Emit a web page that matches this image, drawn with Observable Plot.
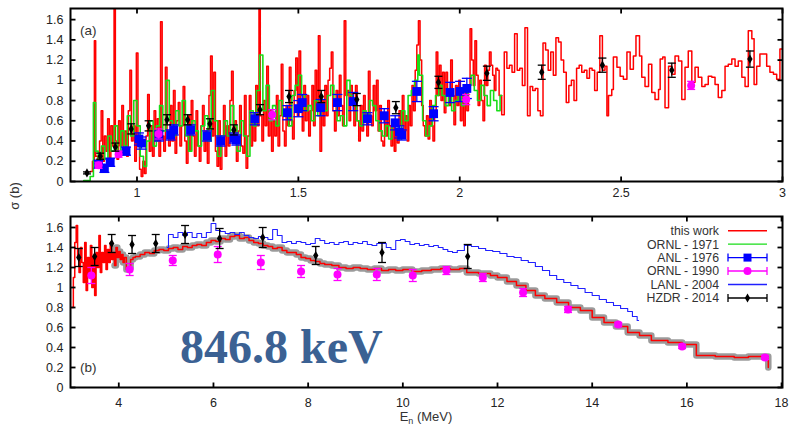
<!DOCTYPE html>
<html><head><meta charset="utf-8">
<script src="https://cdn.jsdelivr.net/npm/d3@7"></script>
<script src="https://cdn.jsdelivr.net/npm/@observablehq/plot@0.6"></script>
<style>
body{margin:0;background:#fff;}
#wrap{position:relative;width:790px;height:426px;overflow:hidden;background:#fff;}
#panelA,#panelB{position:absolute;left:0;}
#panelA{top:0px}#panelB{top:201px}
#ov{position:absolute;left:0;top:0;pointer-events:none;}
</style></head><body>
<div id="wrap"><div id="panelA"></div><div id="panelB"></div>
<svg id="ov" width="790" height="426">
 <g font-family="Liberation Sans, Arial, sans-serif" fill="#333">
  <text x="80" y="35" font-size="13.5">(a)</text>
  <text x="80" y="372" font-size="13.5">(b)</text>
  <text transform="translate(19,196) rotate(-90)" text-anchor="middle" font-size="13">σ (b)</text>
  <text x="426" y="421" text-anchor="middle" font-size="13">E<tspan font-size="9" dy="3">n</tspan><tspan dy="-3"> (MeV)</tspan></text>
 </g>
 <text x="180" y="363" font-family="Liberation Serif, Times New Roman, serif" font-weight="bold" font-size="48" fill="#3b6193">846.8 keV</text>
 <g id="legend" font-family="Liberation Sans, Arial, sans-serif" font-size="12.3" fill="#333" text-anchor="end"></g>
</svg>
</div>
<script>
// ---------- data ----------
const thisWorkA = [[0.855,0.10],[0.862,0.20],[0.868,1.39],[0.872,0.25],[0.878,0.15],[0.884,0.40],[0.889,0.70],[0.894,0.20],[0.899,0.45],[0.904,0.30],[0.909,0.62],[0.914,0.18],[0.919,0.55],[0.924,0.35],[0.929,1.75],[0.933,0.40],[0.938,0.22],[0.943,0.60],[0.948,0.35],[0.953,0.75],[0.958,0.28],[0.963,0.50],[0.968,0.25],[0.973,0.70],[0.978,1.10],[0.983,0.40],[0.988,0.55],[0.993,0.20],[0.998,1.27],[1.003,0.35],[1.008,0.12],[1.013,0.05],[1.018,0.20],[1.023,0.08],[1.028,0.45],[1.033,0.86],[1.038,0.30],[1.043,0.55],[1.048,0.25],[1.053,0.70],[1.058,0.40],[1.063,0.62],[1.068,0.25],[1.073,1.58],[1.078,0.45],[1.083,0.30],[1.088,1.13],[1.093,0.50],[1.098,0.35],[1.103,0.75],[1.108,0.40],[1.113,0.90],[1.118,0.28],[1.123,0.60],[1.128,0.78],[1.133,0.35],[1.138,0.55],[1.143,0.94],[1.148,0.40],[1.153,0.18],[1.158,0.65],[1.163,0.30],[1.168,0.80],[1.173,0.45],[1.178,0.25],[1.183,0.70],[1.188,0.35],[1.193,0.20],[1.198,0.55],[1.203,0.75],[1.208,0.30],[1.213,0.50],[1.218,0.18],[1.223,0.85],[1.228,1.24],[1.233,0.45],[1.238,1.08],[1.243,0.30],[1.248,0.15],[1.253,0.60],[1.258,0.12],[1.263,0.40],[1.268,0.75],[1.273,0.25],[1.278,0.55],[1.283,0.35],[1.288,0.80],[1.293,1.09],[1.298,0.40],[1.303,0.60],[1.308,0.20],[1.313,0.50],[1.318,0.75],[1.323,0.35],[1.328,0.28],[1.333,0.85],[1.338,0.13],[1.343,0.45],[1.348,0.85],[1.353,0.35],[1.358,0.60],[1.363,0.40],[1.368,0.95],[1.373,0.55],[1.378,1.75],[1.382,0.65],[1.387,0.40],[1.392,0.80],[1.397,0.55],[1.402,1.14],[1.407,0.45],[1.412,0.70],[1.417,0.30],[1.422,0.60],[1.427,0.45],[1.432,0.85],[1.437,0.35],[1.442,0.65],[1.447,1.16],[1.452,0.50],[1.457,0.35],[1.462,0.75],[1.467,0.55],[1.472,1.13],[1.477,0.60],[1.482,0.42],[1.487,0.90],[1.492,1.22],[1.497,0.65],[1.502,1.29],[1.507,0.75],[1.512,0.50],[1.517,0.95],[1.522,0.60],[1.527,0.85],[1.532,0.45],[1.537,0.70],[1.542,0.95],[1.547,0.55],[1.552,1.10],[1.557,0.70],[1.562,1.44],[1.567,0.30],[1.572,0.80],[1.577,0.55],[1.582,0.95],[1.587,0.65],[1.592,1.00],[1.597,1.12],[1.602,1.28],[1.607,0.70],[1.612,0.50],[1.617,0.90],[1.622,0.65],[1.627,1.05],[1.632,0.75],[1.637,0.55],[1.642,1.59],[1.647,0.85],[1.652,0.90],[1.657,0.60],[1.662,0.95],[1.667,0.75],[1.672,0.55],[1.677,0.95],[1.682,0.60],[1.687,0.40],[1.692,0.75],[1.697,0.50],[1.702,0.85],[1.707,0.60],[1.712,0.45],[1.717,1.09],[1.722,0.65],[1.727,0.55],[1.732,0.95],[1.737,0.70],[1.742,1.00],[1.747,0.50],[1.752,0.75],[1.757,0.40],[1.762,0.35],[1.767,0.65],[1.772,0.45],[1.777,0.80],[1.782,0.55],[1.787,0.35],[1.792,0.60],[1.797,0.30],[1.802,0.45],[1.807,0.38],[1.812,0.70],[1.817,0.55],[1.822,0.85],[1.827,0.50],[1.832,0.65],[1.837,0.40],[1.842,0.75],[1.847,0.55],[1.852,0.95],[1.857,0.70],[1.862,1.10],[1.867,1.35],[1.872,1.59],[1.877,1.20],[1.882,0.75],[1.887,0.55],[1.892,0.45],[1.897,0.65],[1.902,0.42],[1.907,0.80],[1.912,0.55],[1.917,0.40],[1.922,0.70],[1.927,1.28],[1.932,0.85],[1.937,1.15],[1.942,0.80],[1.947,1.08],[1.952,0.68],[1.957,1.08],[1.962,0.90],[1.967,0.75],[1.972,1.20],[1.977,0.85],[1.982,0.56],[1.987,0.95],[1.992,0.75],[1.997,1.00],[2.002,0.60],[2.007,0.85],[2.012,0.55],[2.017,0.95],[2.022,0.70],[2.027,0.90],[2.032,1.51],[2.037,1.20],[2.042,0.95],[2.047,1.39],[2.052,1.05],[2.057,0.75],[2.062,1.00],[2.067,0.80],[2.072,0.60],[2.077,1.15],[2.082,0.95],[2.087,1.10],[2.092,1.28],[2.097,1.15],[2.102,1.05],[2.107,0.90],[2.112,1.12],[2.117,1.10],[2.122,0.85],[2.130,0.66],[2.138,1.28],[2.146,1.12],[2.154,1.15],[2.162,1.08],[2.170,1.46],[2.178,1.10],[2.186,1.12],[2.194,0.95],[2.202,1.52],[2.210,0.65],[2.218,0.94],[2.226,0.90],[2.234,0.92],[2.242,0.70],[2.250,0.65],[2.258,1.37],[2.266,1.30],[2.274,1.10],[2.282,1.28],[2.290,1.05],[2.298,1.42],[2.306,1.38],[2.314,1.20],[2.322,1.08],[2.330,0.78],[2.338,0.95],[2.346,1.00],[2.354,0.80],[2.362,1.12],[2.370,1.15],[2.378,1.08],[2.386,1.10],[2.394,1.02],[2.402,1.12],[2.410,1.10],[2.418,0.90],[2.426,1.08],[2.434,1.44],[2.442,1.10],[2.450,1.14],[2.456,0.65],[2.461,0.85],[2.471,0.91],[2.476,1.23],[2.487,1.13],[2.497,1.04],[2.507,1.01],[2.518,1.28],[2.528,1.11],[2.538,1.24],[2.546,1.44],[2.557,1.24],[2.564,1.03],[2.574,0.94],[2.585,1.16],[2.595,0.88],[2.605,0.81],[2.616,0.91],[2.621,1.21],[2.629,1.23],[2.636,0.73],[2.647,1.14],[2.657,1.06],[2.667,1.24],[2.678,1.19],[2.688,0.81],[2.698,1.13],[2.708,1.29],[2.719,0.98],[2.729,1.13],[2.739,1.03],[2.750,0.94],[2.760,0.96],[2.770,1.04],[2.781,1.03],[2.791,0.96],[2.801,0.83],[2.812,0.90],[2.822,1.14],[2.832,1.16],[2.843,1.21],[2.853,1.14],[2.863,1.19],[2.874,1.03],[2.884,0.94],[2.894,1.49],[2.905,1.41],[2.912,0.96],[2.920,1.14],[2.930,1.26],[2.941,1.26],[2.951,1.14],[2.961,1.08],[2.972,1.06],[2.982,1.01],[2.992,1.31],[3.000,1.31]];

const ornl1971A = [[0.835,0.01],[0.855,0.05],[0.865,0.78],[0.872,0.30],[0.880,0.15],[0.890,0.35],[0.900,0.22],[0.910,0.45],[0.920,0.30],[0.930,0.55],[0.940,0.25],[0.950,0.50],[0.960,0.35],[0.970,0.65],[0.980,0.45],[0.990,0.80],[1.000,0.55],[1.010,0.25],[1.020,0.15],[1.030,0.40],[1.040,0.60],[1.050,0.35],[1.060,0.55],[1.070,0.75],[1.080,0.50],[1.090,1.00],[1.100,0.60],[1.110,0.45],[1.120,0.70],[1.130,0.55],[1.140,0.80],[1.150,0.45],[1.160,0.30],[1.170,0.60],[1.180,0.50],[1.190,0.35],[1.200,0.55],[1.210,0.65],[1.220,0.40],[1.230,0.90],[1.240,0.60],[1.250,0.25],[1.260,0.45],[1.270,0.60],[1.280,0.45],[1.290,0.75],[1.300,0.55],[1.310,0.30],[1.320,0.60],[1.330,0.45],[1.340,0.25],[1.350,0.70],[1.360,0.55],[1.370,0.90],[1.380,1.25],[1.390,0.70],[1.400,0.95],[1.410,0.60],[1.420,0.75],[1.430,0.55],[1.440,0.80],[1.450,0.65],[1.460,0.70],[1.470,0.55],[1.480,0.85],[1.490,0.95],[1.500,1.05],[1.510,0.85],[1.520,0.70],[1.530,0.75],[1.540,0.60],[1.550,0.80],[1.560,0.65],[1.570,0.75],[1.580,0.70],[1.590,0.85],[1.600,0.95],[1.610,0.80],[1.620,0.60],[1.630,0.65],[1.640,0.55],[1.650,1.00],[1.660,0.85],[1.670,0.75],[1.680,0.60],[1.690,0.55],[1.700,0.70],[1.710,0.60],[1.720,0.80],[1.730,0.75],[1.740,0.60],[1.750,0.50],[1.760,0.45],[1.770,0.55],[1.780,0.42],[1.790,0.60],[1.800,0.55],[1.810,0.42],[1.820,0.70],[1.830,0.60],[1.840,0.85],[1.850,0.90],[1.860,1.00],[1.870,1.25],[1.875,1.05],[1.885,0.60],[1.895,0.45],[1.905,0.55],[1.915,0.75],[1.925,0.85],[1.935,0.95],[1.945,0.85],[1.955,0.75],[1.965,0.85],[1.975,0.70],[1.985,0.80],[1.995,0.90],[2.005,0.75],[2.015,0.85],[2.025,0.95],[2.035,1.05],[2.045,0.90],[2.055,0.80],[2.065,0.95],[2.075,0.85],[2.085,0.75],[2.095,0.90],[2.105,0.80],[2.115,0.70],[2.125,0.85],[2.130,0.85]];

// [E (MeV), sigma (b), error (b)]
const anlA = [[0.881,0.17,0.04],[0.899,0.13,0.04],[0.917,0.19,0.04],[0.966,0.30,0.04],[1.006,0.42,0.06],[1.014,0.38,0.06],[1.068,0.45,0.05],[1.104,0.46,0.05],[1.114,0.51,0.05],[1.166,0.51,0.05],[1.217,0.45,0.05],[1.259,0.40,0.05],[1.300,0.43,0.05],[1.308,0.41,0.05],[1.365,0.62,0.06],[1.466,0.68,0.07],[1.500,0.72,0.08],[1.512,0.78,0.08],[1.569,0.73,0.08],[1.621,0.78,0.08],[1.670,0.79,0.09],[1.714,0.62,0.06],[1.766,0.65,0.07],[1.800,0.58,0.07],[1.813,0.49,0.06],[1.820,0.46,0.05],[1.867,0.89,0.10],[1.919,0.67,0.07],[1.970,0.88,0.10],[2.001,0.89,0.10],[2.022,0.92,0.10]];
const ornl1990A = [[0.881,0.16,0.03],[0.943,0.27,0.03],[1.067,0.47,0.05],[1.419,0.66,0.05],[2.020,0.81,0.05],[2.717,0.95,0.04]];
const hzdrA = [[0.845,0.085,0.01],[0.886,0.25,0.03],[0.933,0.34,0.04],[0.982,0.52,0.05],[1.036,0.55,0.05],[1.093,0.61,0.05],[1.157,0.61,0.05],[1.226,0.57,0.05],[1.300,0.51,0.05],[1.381,0.71,0.05],[1.471,0.84,0.06],[1.571,0.84,0.06],[1.681,0.81,0.06],[1.802,0.73,0.06],[1.934,0.98,0.06],[2.084,1.07,0.07],[2.254,1.08,0.07],[2.442,1.15,0.07],[2.657,1.10,0.07],[2.899,1.21,0.08]];

const thisWorkB = [[3.01,0.80],[3.04,1.10],[3.07,1.45],[3.10,1.62],[3.13,1.30],[3.16,1.15],[3.19,1.40],[3.22,1.25],[3.25,1.05],[3.28,1.45],[3.31,0.97],[3.34,1.30],[3.37,1.15],[3.40,1.42],[3.43,1.00],[3.46,1.30],[3.49,0.92],[3.52,1.35],[3.55,1.20],[3.58,1.52],[3.61,1.15],[3.64,1.35],[3.67,1.25],[3.70,1.42],[3.73,1.18],[3.76,1.38],[3.79,1.25],[3.82,1.45],[3.85,1.28],[3.88,1.35],[3.91,1.22],[3.94,1.40],[3.97,1.30],[4.00,1.36],[4.03,1.28],[4.06,1.33],[4.09,1.25],[4.12,1.30],[4.16,1.18],[4.20,1.20],[4.25,1.28],[4.30,1.30],[4.35,1.31],[4.45,1.33],[4.55,1.35],[4.65,1.34],[4.75,1.37],[4.85,1.38],[4.95,1.37],[5.05,1.39],[5.15,1.40],[5.25,1.38],[5.35,1.41],[5.45,1.40],[5.55,1.42],[5.65,1.43],[5.75,1.42],[5.85,1.45],[5.95,1.47],[6.05,1.46],[6.15,1.49],[6.25,1.48],[6.35,1.51],[6.45,1.52],[6.55,1.49],[6.65,1.50],[6.75,1.47],[6.85,1.45],[6.95,1.44],[7.05,1.42],[7.15,1.41],[7.25,1.39],[7.35,1.40],[7.45,1.37],[7.55,1.35],[7.65,1.35],[7.75,1.33],[7.85,1.30],[7.95,1.29],[8.05,1.27],[8.15,1.26],[8.25,1.24],[8.35,1.23],[8.50,1.22],[8.65,1.20],[8.80,1.19],[8.95,1.20],[9.10,1.19],[9.25,1.18],[9.40,1.19],[9.55,1.17],[9.70,1.18],[9.85,1.17],[10.0,1.18],[10.2,1.16],[10.4,1.17],[10.6,1.18],[10.8,1.19],[11.0,1.18],[11.2,1.19],[11.35,1.15],[11.6,1.14],[11.85,1.12],[12.0,1.10],[12.2,1.06],[12.4,1.02],[12.6,0.97],[12.8,0.92],[13.0,0.89],[13.25,0.85],[13.5,0.80],[13.75,0.77],[14.0,0.70],[14.25,0.65],[14.5,0.61],[14.75,0.55],[15.0,0.52],[15.25,0.47],[15.6,0.45],[15.9,0.43],[16.2,0.32],[16.6,0.31],[17.0,0.30],[17.3,0.31],[17.72,0.20]];

const lanlB = [[5.02,1.40],[5.05,1.53],[5.15,1.50],[5.25,1.55],[5.35,1.52],[5.45,1.55],[5.55,1.50],[5.65,1.54],[5.75,1.50],[5.85,1.55],[5.95,1.64],[6.05,1.57],[6.15,1.56],[6.25,1.54],[6.35,1.55],[6.45,1.53],[6.55,1.55],[6.65,1.52],[6.75,1.50],[6.85,1.49],[6.95,1.51],[7.05,1.50],[7.15,1.48],[7.25,1.58],[7.35,1.52],[7.45,1.45],[7.55,1.46],[7.65,1.44],[7.75,1.46],[7.85,1.45],[7.95,1.43],[8.05,1.44],[8.15,1.49],[8.25,1.47],[8.35,1.44],[8.45,1.45],[8.55,1.43],[8.65,1.45],[8.75,1.46],[8.85,1.43],[8.95,1.45],[9.05,1.44],[9.15,1.46],[9.25,1.43],[9.35,1.42],[9.45,1.44],[9.55,1.44],[9.65,1.40],[9.75,1.38],[9.85,1.47],[9.95,1.48],[10.05,1.46],[10.15,1.43],[10.25,1.44],[10.35,1.42],[10.45,1.43],[10.55,1.41],[10.65,1.42],[10.75,1.40],[10.85,1.38],[10.95,1.36],[11.05,1.35],[11.15,1.37],[11.30,1.42],[11.45,1.41],[11.60,1.39],[11.75,1.37],[11.90,1.36],[12.05,1.34],[12.20,1.31],[12.35,1.30],[12.50,1.27],[12.65,1.25],[12.80,1.21],[12.95,1.17],[13.10,1.12],[13.25,1.08],[13.40,1.05],[13.55,1.02],[13.70,0.99],[13.85,0.95],[14.00,0.92],[14.15,0.88],[14.30,0.85],[14.45,0.82],[14.60,0.79],[14.75,0.76],[14.85,0.71],[14.95,0.67],[14.98,0.67]];

const hzdrB = [[3.155,1.30,0.09],[3.49,1.31,0.09],[3.85,1.44,0.09],[4.28,1.43,0.09],[4.78,1.44,0.09],[5.40,1.53,0.09],[6.13,1.49,0.10],[7.04,1.50,0.10],[8.16,1.32,0.09],[9.56,1.35,0.10],[11.37,1.31,0.12]];
const ornl1990B = [[3.42,1.12,0.08],[4.23,1.18,0.06],[5.14,1.27,0.05],[6.09,1.33,0.08],[7.00,1.25,0.07],[7.85,1.16,0.06],[8.62,1.13,0.06],[9.45,1.13,0.06],[10.21,1.12,0.06],[10.92,1.17,0.04],[11.69,1.10,0.04],[12.54,0.95,0.04],[13.49,0.78,0.03],[14.55,0.63,0.02],[15.90,0.41,0.02],[17.65,0.30,0.02]];

const xTicksA = [1, 1.5, 2, 2.5, 3];
const xTicksB = [4, 6, 8, 10, 12, 14, 16, 18];
const yTicks = [0, 0.2, 0.4, 0.6, 0.8, 1, 1.2, 1.4, 1.6];
const legendLabels = ["this work", "ORNL - 1971", "ANL - 1976", "ORNL - 1990", "LANL - 2004", "HZDR - 2014"];
const colors = {thisWork:"#ff0000", ornl1971:"#19dd19", anl:"#0000ff", ornl1990:"#ff00ff", lanl:"#2020ff", hzdr:"#000000"};

// ---------- helpers ----------
const seg = (dx0, dy0, dx1, dy1) => ({draw(c, s) { const l = Math.sqrt(s / Math.PI); c.moveTo(dx0*l, dy0*l); c.lineTo(dx1*l, dy1*l); }});
const hline = seg(-1,0,1,0), tUp = seg(0,0,0,-1), tDown = seg(0,0,0,1), tRight = seg(0,0,1,0), tLeft = seg(0,0,-1,0);
const fontFam = "Liberation Sans, Arial, sans-serif";

function frameTicks(xt, yt) {
  const o = {r: 5, stroke: "#000", strokeWidth: 1.8, fill: "none"};
  return [
    Plot.dot(xt, {x: d => d, frameAnchor: "bottom", symbol: tUp, ...o}),
    Plot.dot(xt, {x: d => d, frameAnchor: "top", symbol: tDown, ...o}),
    Plot.dot(yt, {y: d => d, frameAnchor: "left", symbol: tRight, ...o}),
    Plot.dot(yt, {y: d => d, frameAnchor: "right", symbol: tLeft, ...o})
  ];
}
function errMarks(data, color, cap, sw = 1.3) {
  return [
    Plot.ruleX(data, {x: d => d[0], y1: d => d[1] - d[2], y2: d => d[1] + d[2], stroke: color, strokeWidth: sw}),
    Plot.dot(data, {x: d => d[0], y: d => d[1] - d[2], symbol: hline, r: cap, stroke: color, strokeWidth: sw, fill: "none"}),
    Plot.dot(data, {x: d => d[0], y: d => d[1] + d[2], symbol: hline, r: cap, stroke: color, strokeWidth: sw, fill: "none"})
  ];
}
function axes(xt, yt, padX) {
  const t = {tickSize: 0, fontSize: 12.5, fill: "#222", tickFormat: d => String(d), label: null};
  return [
    Plot.axisX(xt, {...t, tickPadding: padX}),
    Plot.axisY(yt, {...t, tickPadding: 7})
  ];
}

// ---------- panel (a) ----------
const plotA = Plot.plot({
  width: 790, height: 201, marginLeft: 70, marginRight: 8, marginTop: 8, marginBottom: 20,
  style: {fontFamily: fontFam, background: "white"},
  x: {domain: [0.794, 3.0]},
  y: {domain: [0, 1.71]},
  marks: [
    Plot.line(thisWorkA, {x: d => d[0], y: d => d[1], curve: "step-after", stroke: colors.thisWork, strokeWidth: 1.5, clip: true}),
    Plot.line(ornl1971A, {x: d => d[0], y: d => d[1], curve: "step-after", stroke: colors.ornl1971, strokeWidth: 1.6, clip: true}),
    ...errMarks(anlA, colors.anl, 5),
    Plot.dot(anlA, {x: d => d[0], y: d => d[1], symbol: "square", r: 5, fill: colors.anl, stroke: "none"}),
    ...errMarks(ornl1990A, colors.ornl1990, 4),
    Plot.dot(ornl1990A, {x: d => d[0], y: d => d[1], r: 4, fill: colors.ornl1990, stroke: "none"}),
    ...errMarks(hzdrA, colors.hzdr, 4),
    Plot.dot(hzdrA, {x: d => d[0], y: d => d[1], symbol: "diamond", r: 2.8, fill: colors.hzdr, stroke: "none"}),
    ...axes(xTicksA, yTicks, 7),
    ...frameTicks(xTicksA, yTicks),
    Plot.frame({stroke: "#000", strokeWidth: 2})
  ]
});
document.getElementById("panelA").append(plotA);

// ---------- panel (b) ----------
const plotB = Plot.plot({
  width: 790, height: 225, marginLeft: 70, marginRight: 8, marginTop: 15, marginBottom: 39,
  style: {fontFamily: fontFam, background: "white"},
  x: {domain: [2.98, 18.02]},
  y: {domain: [0, 1.71]},
  marks: [
    Plot.line(thisWorkB.filter(d => d[0] >= 3.9), {x: d => d[0], y: d => d[1], curve: "step-after", stroke: "#8a8a8a", strokeOpacity: 0.85, strokeWidth: 6.5}),
    Plot.line(thisWorkB, {x: d => d[0], y: d => d[1], curve: "step-after", stroke: colors.thisWork, strokeWidth: 1.5, clip: true}),
    Plot.line(lanlB, {x: d => d[0], y: d => d[1], curve: "step-after", stroke: colors.lanl, strokeWidth: 1.1}),
    ...errMarks(ornl1990B, colors.ornl1990, 4),
    Plot.dot(ornl1990B, {x: d => d[0], y: d => d[1], r: 4, fill: colors.ornl1990, stroke: "none"}),
    ...errMarks(hzdrB, colors.hzdr, 4),
    Plot.dot(hzdrB, {x: d => d[0], y: d => d[1], symbol: "diamond", r: 2.8, fill: colors.hzdr, stroke: "none"}),
    ...axes(xTicksB, yTicks, 11),
    ...frameTicks(xTicksB, yTicks),
    Plot.frame({stroke: "#000", strokeWidth: 2})
  ]
});
document.getElementById("panelB").append(plotB);

// ---------- legend ----------
const lg = d3.select("#legend");
const keys = ["thisWork", "ornl1971", "anl", "ornl1990", "lanl", "hzdr"];
const kind = ["line", "line", "square", "circle", "line", "diamond"];
legendLabels.forEach((lab, i) => {
  const cy = 230.7 + i * 13.45;
  lg.append("text").attr("x", 719).attr("y", cy + 4.4).text(lab);
  const c = colors[keys[i]];
  lg.append("line").attr("x1", 728).attr("x2", 767).attr("y1", cy).attr("y2", cy).attr("stroke", c).attr("stroke-width", 1.4);
  if (kind[i] !== "line") {
    [728, 767].forEach(x => lg.append("line").attr("x1", x).attr("x2", x).attr("y1", cy - 4).attr("y2", cy + 4).attr("stroke", c).attr("stroke-width", 1.3));
    const sym = kind[i] === "square" ? d3.symbolSquare : kind[i] === "circle" ? d3.symbolCircle : d3.symbolDiamond;
    const size = kind[i] === "square" ? 64 : kind[i] === "circle" ? 50 : 24;
    lg.append("path").attr("d", d3.symbol(sym, size)()).attr("transform", `translate(747.5,${cy})`).attr("fill", c);
  }
});
</script>
</body></html>
